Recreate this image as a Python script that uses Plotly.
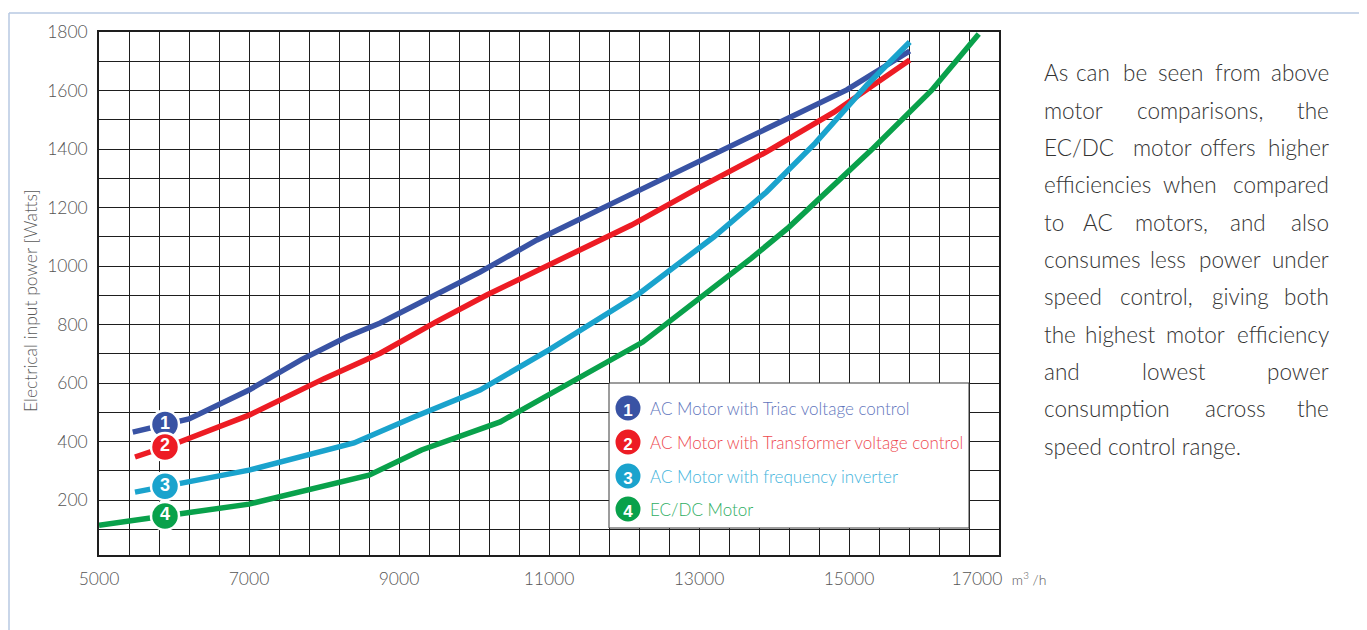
import numpy as np
import plotly.graph_objects as go

# ---------------- data ----------------
triac_x = [5450, 6200, 7000, 7700, 8300, 8750, 10080, 10840, 11850, 12750, 13900, 14970, 15810]
triac_y = [432, 477, 576, 680, 757, 805, 979, 1089, 1215, 1328, 1472, 1602, 1735]

transf_x = [5480, 6040, 7000, 8000, 8750, 9500, 10170, 11000, 12100, 13000, 13900, 14800, 15810]
transf_y = [347, 395, 490, 615, 702, 810, 901, 1003, 1140, 1268, 1390, 1526, 1704]

inv_x = [5480, 7000, 8400, 9200, 10080, 11000, 12200, 13200, 13900, 14550, 15240, 15810]
inv_y = [227, 302, 395, 484, 576, 713, 905, 1100, 1253, 1420, 1619, 1766]

ecdc_x = [5000, 7000, 8600, 9300, 10350, 11700, 12250, 13700, 14200, 15300, 16100, 16730]
ecdc_y = [114, 186, 285, 371, 467, 661, 740, 1027, 1133, 1397, 1600, 1793]

series_names = ["AC Motor with Triac voltage control",
                "AC Motor with Transformer voltage control",
                "AC Motor with frequency inverter",
                "EC/DC Motor"]
series_labels = ["1", "2", "3", "4"]
series_colors = ["#3953a4", "#ed1c24", "#1aa3cd", "#09a14b"]
legend_text_colors = ["#6276bd", "#ee4a50", "#43b4dc", "#2eae62"]

x_tickvals = [5000, 7000, 9000, 11000, 13000, 15000, 17000]
x_ticktext = ["5000", "7000", "9000", "11000", "13000", "15000",
              "17000  <span style='font-size:14px'>m<sup>3</sup> /h</span>"]
y_tickvals = [200, 400, 600, 800, 1000, 1200, 1400, 1600, 1800]

paragraph_lines = [
    "As can be seen from above",
    "motor comparisons, the",
    "EC/DC motor offers higher",
    "efficiencies when compared",
    "to AC motors, and also",
    "consumes less power under",
    "speed control, giving both",
    "the highest motor efficiency",
    "and lowest power",
    "consumption across the",
    "speed control range.",
]

# ---------------- layout geometry (screen pixels; page has 8px body margin) ----------------
OX, OY = 8, 8
W, H = 1359, 622
PLOT_L, PLOT_R, PLOT_T, PLOT_B = 99, 999, 32, 555   # screen coords of plot area
ML = PLOT_L - OX
MT = PLOT_T - OY
PW = PLOT_R - PLOT_L
PH = PLOT_B - PLOT_T
MR = W - ML - PW
MB = H - MT - PH


def px(xs):
    return (xs - PLOT_L) / PW


def py(ys):
    return (PLOT_B - ys) / PH


FONT = "Lato"
GRID = "#1e1e1e"

fig = go.Figure()

all_x = [triac_x, transf_x, inv_x, ecdc_x]
all_y = [triac_y, transf_y, inv_y, ecdc_y]

for xs, ys, col, nm in zip(all_x, all_y, series_colors, series_names):
    fig.add_trace(go.Scatter(x=xs, y=ys, mode="lines", name=nm,
                             line=dict(color=col, width=5.5),
                             hoverinfo="skip", showlegend=False))

# numbered badges on the curves
badge_x = 5880
for xs, ys, col, lab in zip(all_x, all_y, series_colors, series_labels):
    by = float(np.interp(badge_x, xs, ys))
    fig.add_trace(go.Scatter(
        x=[badge_x], y=[by], mode="markers+text", text=[lab],
        textposition="middle center",
        textfont=dict(color="white", size=18, family="Liberation Sans", weight="bold"),
        marker=dict(size=28, color=col, line=dict(color="white", width=2.5)),
        hoverinfo="skip", showlegend=False))

shapes = []
annotations = []

# outer frame
frame_col = "#b7c9e2"
shapes.append(dict(type="line", xref="paper", yref="paper", x0=px(9), x1=px(1360),
                   y0=py(13), y1=py(13), line=dict(color=frame_col, width=1.5), layer="below"))
shapes.append(dict(type="line", xref="paper", yref="paper", x0=px(9), x1=px(9),
                   y0=py(13), y1=py(640), line=dict(color=frame_col, width=1.5), layer="below"))
shapes.append(dict(type="line", xref="paper", yref="paper", x0=px(1360), x1=px(1360),
                   y0=py(13), y1=py(640), line=dict(color=frame_col, width=1.5), layer="below"))
shapes.append(dict(type="rect", xref="paper", yref="paper", x0=px(1361), x1=px(1370),
                   y0=py(28), y1=py(640), fillcolor="#dedede", line=dict(width=0), layer="below"))

# legend box
shapes.append(dict(type="rect", xref="paper", yref="paper", x0=px(609), x1=px(969),
                   y0=py(528), y1=py(383), fillcolor="white",
                   line=dict(color="#3a3a3a", width=1), layer="above"))
legend_rows = [408, 442, 476, 509]
r = 12.5
for yr, col, lab, nm, tcol in zip(legend_rows, series_colors, series_labels,
                                  series_names, legend_text_colors):
    shapes.append(dict(type="circle", xref="paper", yref="paper",
                       x0=px(628 - r), x1=px(628 + r), y0=py(yr + r), y1=py(yr - r),
                       fillcolor=col, line=dict(color=col, width=0), layer="above",
                       label=dict(text=lab, textposition="middle center",
                                  font=dict(color="white", size=17, family="Liberation Sans",
                                            weight="bold"))))
    annotations.append(dict(xref="paper", yref="paper", x=px(648), y=py(yr),
                            xanchor="left", yanchor="middle", showarrow=False,
                            text=nm, font=dict(family=FONT, size=17, color=tcol, weight=300)))

# y axis title
annotations.append(dict(xref="paper", yref="paper", x=px(30), y=py(301),
                        xanchor="center", yanchor="middle", showarrow=False, textangle=-90,
                        text="Electrical input power [Watts]",
                        font=dict(family=FONT, size=17.5, color="#5a5a5a", weight=300)))

# justified paragraph, one annotation per word
para_left, para_right = 1042, 1331
line_y0, line_step = 73, 37.3
mid_centers = [
    [1093.3, 1135, 1180.8, 1237.5],
    [1200],
    [1162.5, 1228.3],
    [1190],
    [1097.5, 1171.7, 1248.3],
    [1167.5, 1230],
    [1156.7, 1240],
    [1120, 1195.8],
    [1174],
    [1235],
    None,
]
pfont = dict(family=FONT, size=22.5, color="#333333", weight=300)
for i, (line, mids) in enumerate(zip(paragraph_lines, mid_centers)):
    yy = py(line_y0 + i * line_step)
    if mids is None:
        annotations.append(dict(xref="paper", yref="paper", x=px(para_left), y=yy,
                                xanchor="left", yanchor="middle", showarrow=False,
                                text=line, font=pfont))
        continue
    words = line.split(" ")
    annotations.append(dict(xref="paper", yref="paper", x=px(para_left), y=yy,
                            xanchor="left", yanchor="middle", showarrow=False,
                            text=words[0], font=pfont))
    for w, c in zip(words[1:-1], mids):
        annotations.append(dict(xref="paper", yref="paper", x=px(c), y=yy,
                                xanchor="center", yanchor="middle", showarrow=False,
                                text=w, font=pfont))
    annotations.append(dict(xref="paper", yref="paper", x=px(para_right), y=yy,
                            xanchor="right", yanchor="middle", showarrow=False,
                            text=words[-1], font=pfont))

tickfont = dict(family=FONT, size=17.5, color="#555555", weight=300)

fig.update_layout(
    width=W, height=H,
    margin=dict(l=ML, r=MR, t=MT, b=MB, autoexpand=False),
    paper_bgcolor="white", plot_bgcolor="white",
    showlegend=False,
    shapes=shapes, annotations=annotations,
    xaxis=dict(range=[5000, 17000], tickmode="array", tickvals=x_tickvals,
               ticktext=x_ticktext, tickfont=tickfont,
               showgrid=True, gridcolor=GRID, gridwidth=1.3,
               minor=dict(tickmode="linear", tick0=5000, dtick=400, showgrid=True,
                          gridcolor=GRID, gridwidth=1.3),
               showline=True, mirror=True, linecolor=GRID, linewidth=1.5,
               ticks="outside", ticklen=7, tickcolor="rgba(0,0,0,0)",
               zeroline=False, fixedrange=True),
    yaxis=dict(range=[12, 1800], tickmode="array", tickvals=y_tickvals,
               tickfont=tickfont,
               showgrid=True, gridcolor=GRID, gridwidth=1.3,
               minor=dict(tickmode="linear", tick0=0, dtick=100, showgrid=True,
                          gridcolor=GRID, gridwidth=1.3),
               showline=True, mirror=True, linecolor=GRID, linewidth=1.5,
               ticks="outside", ticklen=6, tickcolor="rgba(0,0,0,0)",
               zeroline=False, fixedrange=True),
)

fig.write_html("out.html")
